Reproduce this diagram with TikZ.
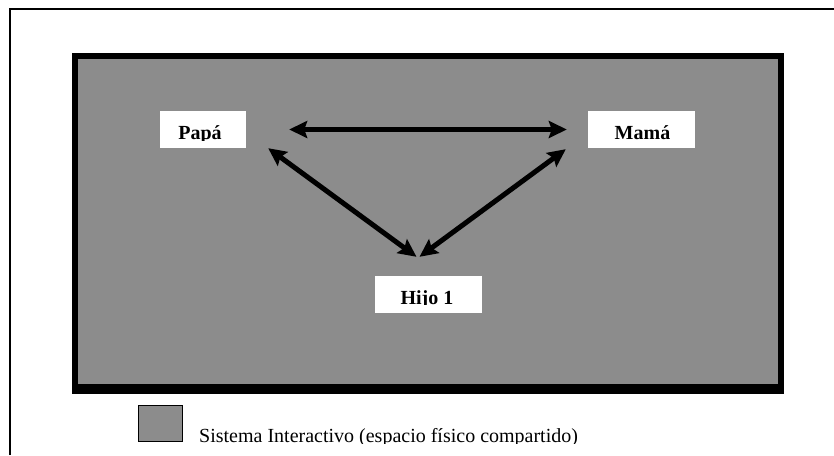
\documentclass[tikz,border=0pt]{standalone}
\usepackage{fontspec}
\setmainfont{Liberation Serif}
\usetikzlibrary{arrows.meta}
\definecolor{spacegray}{RGB}{140,140,140}
\tikzset{
  lbl/.style={fill=white, inner sep=0pt, minimum height=37pt},
  lbltext/.style={anchor=base, inner sep=0pt, font=\fontsize{20pt}{24pt}\selectfont\bfseries},
  twoway/.style={line width=5pt, {Stealth[length=18pt,width=17pt,inset=3pt]}-{Stealth[length=18pt,width=17pt,inset=3pt]}},
}
\begin{document}
\begin{tikzpicture}[x=1pt, y=-1pt]
\useasboundingbox (0,0) rectangle (834,455);

% outer frame (top and left rules)
\draw[line width=2pt] (10,455) -- (10,8.5) -- (834,8.5);

% shared interactive space
\fill[black] (72,53) rectangle (784,394);
\fill[spacegray] (78,59) rectangle (778,384);

% member boxes
\node[lbl, minimum width=86pt] (papa) at (203,129.5) {};
\node[lbl, minimum width=107pt] (mama) at (641.5,129.5) {};
\node[lbl, minimum width=107pt] (hijo) at (428.5,294.5) {};

% member names, cut off just under the baseline
\begin{scope}
  \clip (papa.north west) rectangle (246,140);
  \node[lbltext] (papat) at (200,139) {Papá};
\end{scope}
\begin{scope}
  \clip (mama.north west) rectangle (695,140);
  \node[lbltext] (mamat) at (642.5,139) {Mamá};
\end{scope}
\begin{scope}
  \clip (hijo.north west) rectangle (482,304.5);
  \node[lbltext] (hijot) at (427,304) {Hijo 1};
\end{scope}

% relations
\draw[twoway] ([xshift=43pt]papa.east) -- ([xshift=-21pt]mama.west);
\draw[twoway] ([shift={(22,0)}]papa.south east) -- ([shift={(-12,-19)}]hijo.north);
\draw[twoway] ([shift={(-22,1)}]mama.south west) -- ([shift={(-9,-19)}]hijo.north);

% legend
\node[draw=black, line width=1pt, fill=spacegray, minimum width=44pt, minimum height=36pt, inner sep=0pt] (key) at (160.5,423.5) {};
\begin{scope}
  \clip (190,400) rectangle (620,443);
  \node[anchor=base west, inner sep=0pt, font=\fontsize{20pt}{24pt}\selectfont] (keyt) at (199,442) {Sistema Interactivo (espacio físico compartido)};
\end{scope}
\end{tikzpicture}
\end{document}
